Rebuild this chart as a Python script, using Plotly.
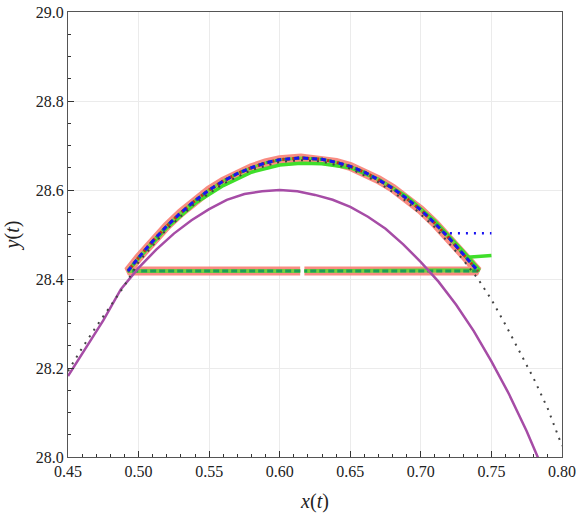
import plotly.graph_objects as go

# ---- data ----
# main closed orbit (upper arc), bottom edge at y_base
arc_x = [0.4925, 0.50, 0.51, 0.52, 0.53, 0.54, 0.55, 0.56, 0.57, 0.58, 0.59, 0.60,
         0.615, 0.63, 0.64, 0.65, 0.66, 0.67, 0.68, 0.69, 0.70, 0.71, 0.72, 0.73, 0.7405]
arc_y = [28.418, 28.448, 28.485, 28.519, 28.549, 28.576, 28.600, 28.620, 28.637, 28.650,
         28.661, 28.668, 28.672, 28.669, 28.662, 28.653, 28.640, 28.623, 28.604, 28.581,
         28.555, 28.525, 28.492, 28.456, 28.418]
y_base = 28.418
gap_left_x = 0.6145
gap_right_x = 0.6175

# bright green orbit
green_x = [0.4925, 0.50, 0.52, 0.54, 0.56, 0.58, 0.60, 0.615, 0.63, 0.65, 0.67, 0.69,
           0.71, 0.73, 0.7415]
green_y = [28.418, 28.446, 28.515, 28.570, 28.610, 28.640, 28.656, 28.660, 28.659,
           28.650, 28.624, 28.585, 28.530, 28.462, 28.420]
green_tail_x = [0.733, 0.75]
green_tail_y = [28.449, 28.453]

# blue dotted tail
blue_tail_x = [0.7206, 0.75]
blue_tail_y = [28.503, 28.503]

# black dotted curve
dot_x = [0.45, 0.46, 0.47, 0.48, 0.49, 0.50, 0.52, 0.54, 0.56, 0.58, 0.60, 0.615, 0.63,
         0.65, 0.67, 0.69, 0.71, 0.72, 0.73, 0.7405, 0.75, 0.76, 0.77, 0.78, 0.79, 0.80]
dot_y = [28.193, 28.245, 28.293, 28.338, 28.385, 28.438, 28.512, 28.570, 28.614, 28.645,
         28.663, 28.667, 28.664, 28.648, 28.617, 28.574, 28.516, 28.480, 28.443, 28.400,
         28.354, 28.297, 28.236, 28.176, 28.108, 28.025]

# purple curve
pur_x = [0.45, 0.4625, 0.475, 0.4875, 0.50, 0.5125, 0.525, 0.5375, 0.55, 0.5625, 0.575,
         0.5875, 0.60, 0.6125, 0.625, 0.6375, 0.65, 0.6625, 0.675, 0.6875, 0.70, 0.7125,
         0.725, 0.7375, 0.75, 0.7625, 0.775, 0.7875]
pur_y = [28.182, 28.243, 28.307, 28.377, 28.425, 28.466, 28.502, 28.532, 28.557, 28.578,
         28.591, 28.597, 28.600, 28.597, 28.589, 28.578, 28.562, 28.540, 28.513, 28.478,
         28.438, 28.394, 28.342, 28.283, 28.215, 28.141, 28.058, 27.965]

x_ticks = [0.45, 0.50, 0.55, 0.60, 0.65, 0.70, 0.75, 0.80]
y_ticks = [28.0, 28.2, 28.4, 28.6, 28.8, 29.0]

# loop: start just left of the gap, go left along bottom, up arc, back along bottom
loop_x = [gap_left_x] + arc_x + [gap_right_x]
loop_y = [y_base] + arc_y + [y_base]
gloop_x = [gap_left_x] + green_x + [gap_right_x]
gloop_y = [y_base] + green_y + [y_base]

fig = go.Figure()
fig.add_trace(go.Scatter(x=loop_x, y=loop_y, mode="lines",
                         line=dict(color="rgba(248,128,116,0.9)", width=9)))
fig.add_trace(go.Scatter(x=gloop_x, y=gloop_y, mode="lines",
                         line=dict(color="#3fdf2a", width=3.5)))
fig.add_trace(go.Scatter(x=green_tail_x, y=green_tail_y, mode="lines",
                         line=dict(color="#3fdf2a", width=3.5)))
fig.add_trace(go.Scatter(x=loop_x, y=loop_y, mode="lines",
                         line=dict(color="#78cf40", width=3)))
fig.add_trace(go.Scatter(x=loop_x, y=loop_y, mode="lines",
                         line=dict(color="#1c9e55", width=3, dash="6px,3px")))
fig.add_trace(go.Scatter(x=arc_x, y=arc_y, mode="lines",
                         line=dict(color="#c8281e", width=3, dash="2px,3px")))
fig.add_trace(go.Scatter(x=arc_x, y=arc_y, mode="lines",
                         line=dict(color="#1a14f0", width=3, dash="5px,4px")))
fig.add_trace(go.Scatter(x=blue_tail_x, y=blue_tail_y, mode="lines",
                         line=dict(color="#1a14f0", width=2.5, dash="2px,6px")))
fig.add_trace(go.Scatter(x=pur_x, y=pur_y, mode="lines",
                         line=dict(color="#a64ca6", width=2.5)))
fig.add_trace(go.Scatter(x=dot_x, y=dot_y, mode="lines",
                         line=dict(color="#444444", width=2, dash="2px,6px")))

serif = "Times New Roman, Times, Liberation Serif, DejaVu Serif, serif"
tick_font = dict(family=serif, size=16, color="#222")
title_font = dict(family=serif, size=20, color="#222")
fig.update_layout(
    width=576, height=519,
    margin=dict(l=68, r=14, t=12, b=62),
    paper_bgcolor="white", plot_bgcolor="white",
    showlegend=False,
    font=dict(family=serif, size=16, color="#222"),
    xaxis=dict(range=[0.45, 0.80], tickvals=x_ticks,
               ticktext=[f"{v:.2f}" for v in x_ticks],
               tickfont=tick_font,
               automargin=False,
               showgrid=True, gridcolor="#ebebeb", gridwidth=1,
               showline=True, linecolor="#555", linewidth=1, mirror=True,
               ticks="inside", ticklen=6, tickcolor="#333",
               minor=dict(dtick=0.01, ticks="inside", ticklen=3, tickcolor="#333", showgrid=False),
               zeroline=False,
               title=dict(text="<i>x</i>(<i>t</i>)", font=title_font, standoff=14)),
    yaxis=dict(range=[28.0, 29.0], tickvals=y_ticks,
               ticktext=[f"{v:.1f}" for v in y_ticks],
               tickfont=tick_font,
               automargin=False,
               showgrid=True, gridcolor="#ebebeb", gridwidth=1,
               showline=True, linecolor="#555", linewidth=1, mirror=True,
               ticks="inside", ticklen=6, tickcolor="#333",
               minor=dict(dtick=0.05, ticks="inside", ticklen=3, tickcolor="#333", showgrid=False),
               zeroline=False,
               title=dict(text="<i>y</i>(<i>t</i>)", font=title_font, standoff=10)),
)

fig.write_html("out.html")
